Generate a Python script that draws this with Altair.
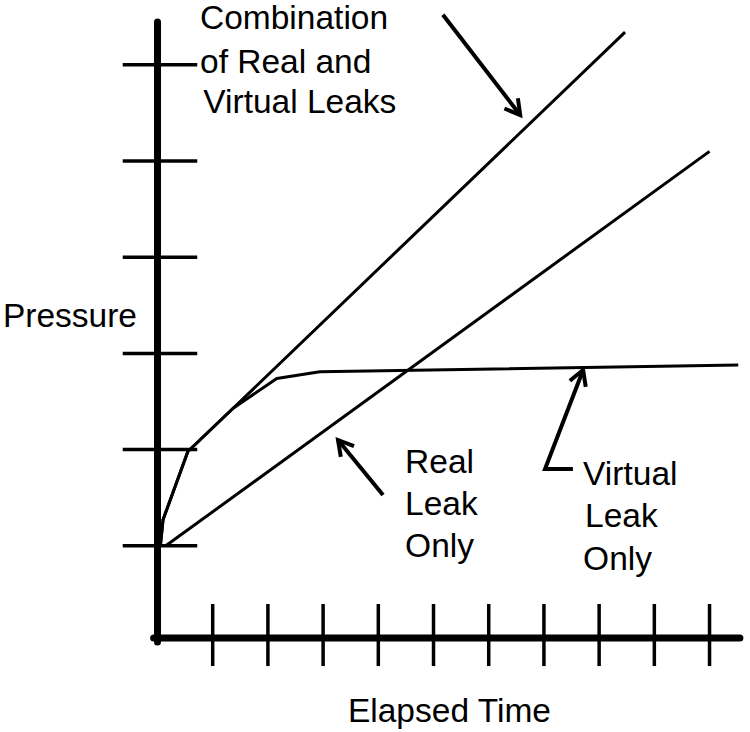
import math
import altair as alt
import pandas as pd

# ---------------- data (time units / pressure units) ----------------
real_t = [0.15, 10.0]
real_p = [1.0, 5.1]

comb_t = [0.05, 0.10, 0.55, 1.37, 8.47]
comb_p = [0.99, 1.27, 1.98, 2.43, 6.34]

virt_t = [0.05, 0.10, 0.55, 1.37, 2.16, 2.94, 10.52]
virt_p = [0.99, 1.27, 1.98, 2.43, 2.74, 2.81, 2.88]

x_ticks = [1, 2, 3, 4, 5, 6, 7, 8, 9, 10]
y_ticks = [1, 2, 3, 4, 5, 6]

# annotation arrows (polylines ending at the tip)
arrow_names = ["comb", "real", "virt"]
arrow_t = [[5.17, 6.57], [4.085, 3.27], [7.525, 7.02, 7.71]]
arrow_p = [[6.52, 5.478], [1.528, 2.10], [1.798, 1.798, 2.827]]

label_text = ["Combination", "of Real and", "Virtual Leaks",
              "Real", "Leak", "Only",
              "Virtual", "Leak", "Only",
              "Pressure", "Elapsed Time"]
label_t = [0.77, 0.77, 0.83,
           4.485, 4.485, 4.485,
           7.71, 7.745, 7.71,
           -2.80, 3.45]
label_p = [6.37, 5.92, 5.50,
           1.757, 1.32, 0.884,
           1.632, 1.195, 0.748,
           3.275, -0.832]

# ---------------- scales ----------------
W, H = 750, 732
X_DOM = [-2.853, 10.733]
Y_DOM = [-0.9356, 6.674]
xs = alt.Scale(domain=X_DOM, range=[0, W], nice=False, zero=False)
ys = alt.Scale(domain=Y_DOM, range=[H, 0], nice=False, zero=False)


def px(t):
    return (t - X_DOM[0]) / (X_DOM[1] - X_DOM[0]) * W


def py(p):
    return H - (p - Y_DOM[0]) / (Y_DOM[1] - Y_DOM[0]) * H


# ---------------- tables ----------------
rows = []
for name, ts, ps in [("real", real_t, real_p), ("comb", comb_t, comb_p), ("virt", virt_t, virt_p)]:
    for i, (t, p) in enumerate(zip(ts, ps)):
        rows.append({"series": name, "i": i, "t": t, "p": p})
curves = pd.DataFrame(rows)

arows, heads = [], []
for name, ts, ps in zip(arrow_names, arrow_t, arrow_p):
    for i, (t, p) in enumerate(zip(ts, ps)):
        arows.append({"arrow": name, "i": i, "t": t, "p": p})
    dx = px(ts[-1]) - px(ts[-2])
    dy = py(ps[-1]) - py(ps[-2])
    ang = math.degrees(math.atan2(dx, -dy)) % 360
    heads.append({"arrow": name, "t": ts[-1], "p": ps[-1], "ang": ang})
arrows = pd.DataFrame(arows)
heads = pd.DataFrame(heads)

labels = pd.DataFrame({"text": label_text, "t": label_t, "p": label_p})

axes_df = pd.DataFrame({
    "t": [0.0, -0.07], "t2": [0.0, 10.55],
    "p": [6.445, 0.042], "p2": [0.0, 0.042],
})
xt = pd.DataFrame({"t": x_ticks, "p": [0.395] * len(x_ticks), "p2": [-0.25] * len(x_ticks)})
yt = pd.DataFrame({"p": y_ticks, "t": [-0.63] * len(y_ticks), "t2": [0.72] * len(y_ticks)})

X = lambda f: alt.X(f, type="quantitative", scale=xs, axis=None)
Y = lambda f: alt.Y(f, type="quantitative", scale=ys, axis=None)

axis_lines = alt.Chart(axes_df).mark_rule(color="black", strokeWidth=7, strokeCap="round").encode(
    x=X("t"), x2="t2", y=Y("p"), y2="p2")
xtick_layer = alt.Chart(xt).mark_rule(color="black", strokeWidth=3.5).encode(
    x=X("t"), y=Y("p"), y2="p2")
ytick_layer = alt.Chart(yt).mark_rule(color="black", strokeWidth=3.5).encode(
    y=Y("p"), x=X("t"), x2="t2")

curve_layer = alt.Chart(curves).mark_line(color="black", strokeWidth=3, strokeJoin="round").encode(
    x=X("t"), y=Y("p"), detail="series:N", order="i:Q")

arrow_layer = alt.Chart(arrows).mark_line(color="black", strokeWidth=4, strokeJoin="miter").encode(
    x=X("t"), y=Y("p"), detail="arrow:N", order="i:Q")

head_layer = alt.Chart(heads).mark_point(
    shape="M-0.5,0.87L0,0L0.5,0.87", filled=False, color="black",
    strokeWidth=4, size=1156, opacity=1, strokeJoin="miter").encode(
    x=X("t"), y=Y("p"), angle=alt.Angle("ang:Q", scale=None))

text_layer = alt.Chart(labels).mark_text(
    align="left", baseline="alphabetic", font="Liberation Sans", fontSize=33.5, color="black").encode(
    x=X("t"), y=Y("p"), text="text:N")

chart = alt.layer(
    curve_layer, axis_lines, xtick_layer, ytick_layer, arrow_layer, head_layer, text_layer
).properties(
    width=W, height=H, padding=0, autosize=alt.AutoSizeParams(type="none"),
    background="white"
).configure_view(stroke=None)

chart.save("out.html", embed_options={"renderer": "svg", "actions": False})
